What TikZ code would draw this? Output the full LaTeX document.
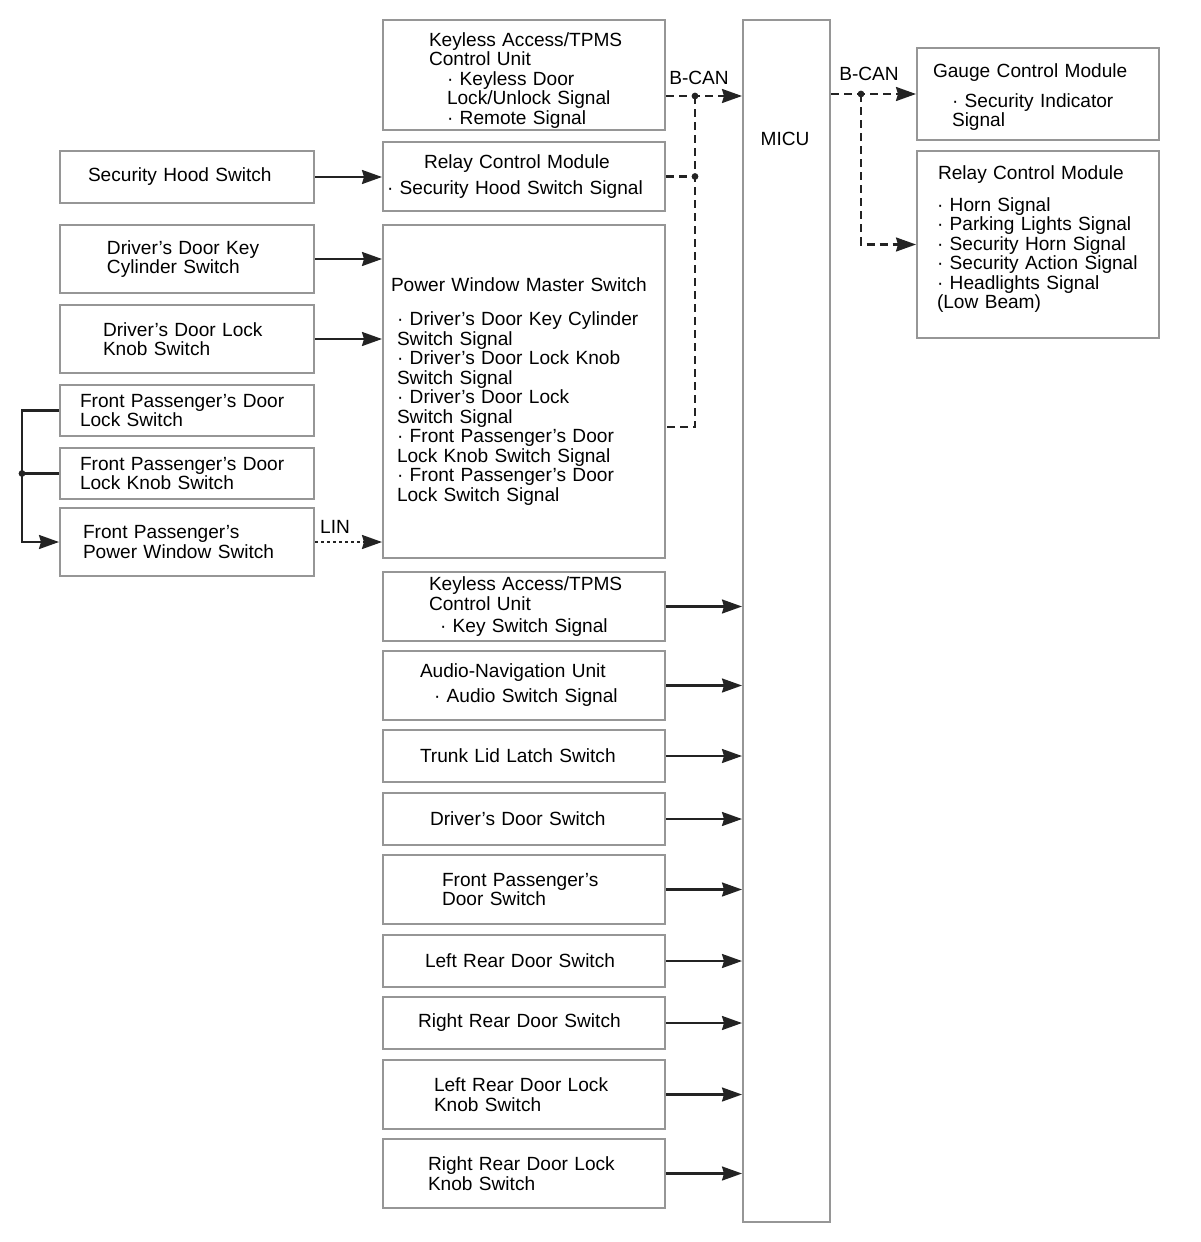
\documentclass[tikz,border=0pt]{standalone}
\usepackage{fontspec}
\setmainfont{Liberation Sans}
\usetikzlibrary{arrows.meta}
\definecolor{boxgray}{RGB}{150,150,150}
\definecolor{linegray}{RGB}{35,35,35}
\newcommand{\lpad}[1]{\hspace*{#1pt}}

\begin{document}
\begin{tikzpicture}[x=0.5pt,y=-0.5pt]
\tikzstyle{box} = [rectangle, draw=boxgray, line width=1pt, inner xsep=0pt, inner ysep=0pt, align=left, font=\fontsize{9.55pt}{9.75pt}\selectfont]
\tikzstyle{mid} = [box, text width=141pt]
\tikzstyle{lft} = [box, text width=127pt]
\tikzstyle{rgt} = [box, text width=121pt]
\tikzstyle{lbl} = [inner sep=0pt, font=\fontsize{9.55pt}{9.75pt}\selectfont]
\tikzstyle{line} = [line width=1.1pt, draw=linegray]
\tikzstyle{arrow} = [line, -{Stealth[length=10pt,width=7pt,inset=1pt]}]
\tikzstyle{can} = [line, dash pattern=on 4pt off 2.5pt]
\tikzstyle{canarrow} = [can, -{Stealth[length=10pt,width=7pt,inset=1pt]}]
\tikzstyle{lin} = [line, dash pattern=on 1.4pt off 1.6pt, -{Stealth[length=10pt,width=7pt,inset=1pt]}]
\useasboundingbox (0,0) rectangle (1200,1242);
% middle column
\node (kac) [mid, minimum height=55pt] at (524,75) {\rule{0pt}{12pt}\lpad{23}Keyless Access/TPMS\\ \lpad{23}Control Unit\\ \lpad{32}· Keyless Door\\ \lpad{32}Lock/Unlock Signal\\ \lpad{32}· Remote Signal};
\node (rcm) [mid, minimum height=34.5pt] at (524,176.5) {\lpad{20.5}Relay Control Module\\[3.2pt] \lpad{2}· Security Hood Switch Signal};
\node (pwms) [mid, minimum height=166.5pt] at (524,391.5) {\lpad{4}Power Window Master Switch\\[7.5pt]
 \lpad{7}· Driver’s Door Key Cylinder\\ \lpad{7}Switch Signal\\
 \lpad{7}· Driver’s Door Lock Knob\\ \lpad{7}Switch Signal\\
 \lpad{7}· Driver’s Door Lock\\ \lpad{7}Switch Signal\\
 \lpad{7}· Front Passenger’s Door\\ \lpad{7}Lock Knob Switch Signal\\
 \lpad{7}· Front Passenger’s Door\\ \lpad{7}Lock Switch Signal};
\node (kas) [mid, minimum height=34.5pt] at (524,606.5) {\lpad{23}Keyless Access/TPMS\\ \lpad{23}Control Unit\\[1.3pt] \lpad{28.5}· Key Switch Signal};
\node (anu) [mid, minimum height=34.5pt] at (524,685.5) {\lpad{18.5}Audio-Navigation Unit\\[2.8pt] \lpad{25.5}· Audio Switch Signal};
\node (tll) [mid, minimum height=26pt] at (524,756) {\lpad{18.5}Trunk Lid Latch Switch};
\node (dds) [mid, minimum height=26pt] at (524,819) {\lpad{23.5}Driver’s Door Switch};
\node (fps) [mid, minimum height=34.5pt] at (524,889.5) {\lpad{29.5}Front Passenger’s\\ \lpad{29.5}Door Switch};
\node (lrs) [mid, minimum height=26pt] at (524,961) {\lpad{21}Left Rear Door Switch};
\node (rrs) [mid, minimum height=26pt] at (524,1023) {\lpad{17.5}Right Rear Door Switch};
\node (lrk) [mid, minimum height=34.5pt] at (524,1094.5) {\lpad{25.5}Left Rear Door Lock\\ \lpad{25.5}Knob Switch};
\node (rrk) [mid, minimum height=34.5pt] at (524,1173.5) {\lpad{22.5}Right Rear Door Lock\\ \lpad{22.5}Knob Switch};
% MICU
\node (micu) [box, minimum width=43.5pt, minimum height=601pt] at (786.5,621) {};
\node (micul) [lbl] at (785,139) {MICU};
% right column
\node (gcm) [rgt, minimum height=46pt] at (1038,94) {\rule{0pt}{10pt}\lpad{8}Gauge Control Module\\[5pt] \lpad{17.5}· Security Indicator\\ \lpad{17.5}Signal};
\node (rly) [rgt, minimum height=93.5pt] at (1038,244.5) {\lpad{10.5}Relay Control Module\\[6pt]
 \lpad{10}· Horn Signal\\ \lpad{10}· Parking Lights Signal\\ \lpad{10}· Security Horn Signal\\
 \lpad{10}· Security Action Signal\\ \lpad{10}· Headlights Signal\\ \lpad{10}(Low Beam)\rule[-7pt]{0pt}{7pt}};
% left column
\node (shs) [lft, minimum height=26pt] at (187,177) {\lpad{14}Security Hood Switch};
\node (dks) [lft, minimum height=34pt] at (187,259) {\lpad{23.5}Driver’s Door Key\\ \lpad{23.5}Cylinder Switch};
\node (dls) [lft, minimum height=34pt] at (187,339) {\lpad{21.5}Driver’s Door Lock\\ \lpad{21.5}Knob Switch};
\node (fpl) [lft, minimum height=25.5pt] at (187,410.5) {\lpad{10}Front Passenger’s Door\\ \lpad{10}Lock Switch};
\node (fpk) [lft, minimum height=25.5pt] at (187,473.5) {\lpad{10}Front Passenger’s Door\\ \lpad{10}Lock Knob Switch};
\node (fpw) [lft, minimum height=34pt] at (187,542) {\lpad{11.5}Front Passenger’s\\ \lpad{11.5}Power Window Switch};
% bus labels
\node (canl) [lbl] at (699,78) {B-CAN};
\node (canr) [lbl] at (869,74) {B-CAN};
\node (linl) [lbl] at (335,527) {LIN};
% junctions
\coordinate (bcl) at (695,96);
\coordinate (bcp) at (695,427);
\coordinate (bcr) at (861,94);
\coordinate (fpj) at (22,473.5);
% B-CAN left
\draw [canarrow] (kac.east |- bcl) -- (bcl -| micu.west);
\draw [can] (rcm.east) -- (rcm.east -| bcl);
\draw [can] (bcl) -- (bcp) -- (bcp -| pwms.east);
\fill [linegray] (bcl) circle (1.7pt);
\fill [linegray] (rcm.east -| bcl) circle (1.7pt);
% B-CAN right
\draw [canarrow] (micu.east |- gcm.west) -- (gcm.west);
\draw [canarrow] (bcr) |- (rly.west);
\fill [linegray] (bcr) circle (1.7pt);
% left inputs
\draw [arrow] (shs.east) -- (shs.east -| rcm.west);
\draw [arrow] (dks.east) -- (dks.east -| pwms.west);
\draw [arrow] (dls.east) -- (dls.east -| pwms.west);
\draw [arrow] (fpl.west) -| (fpj) |- (fpw.west);
\draw [line] (fpk.west) -- (fpj);
\fill [linegray] (fpj) circle (1.7pt);
\draw [lin] (fpw.east) -- (fpw.east -| pwms.west);
% switch inputs to MICU
\foreach \n in {kas,anu,tll,dds,fps,lrs,rrs,lrk,rrk}
  \draw [arrow] (\n.east) -- (\n.east -| micu.west);
\end{tikzpicture}
\end{document}
